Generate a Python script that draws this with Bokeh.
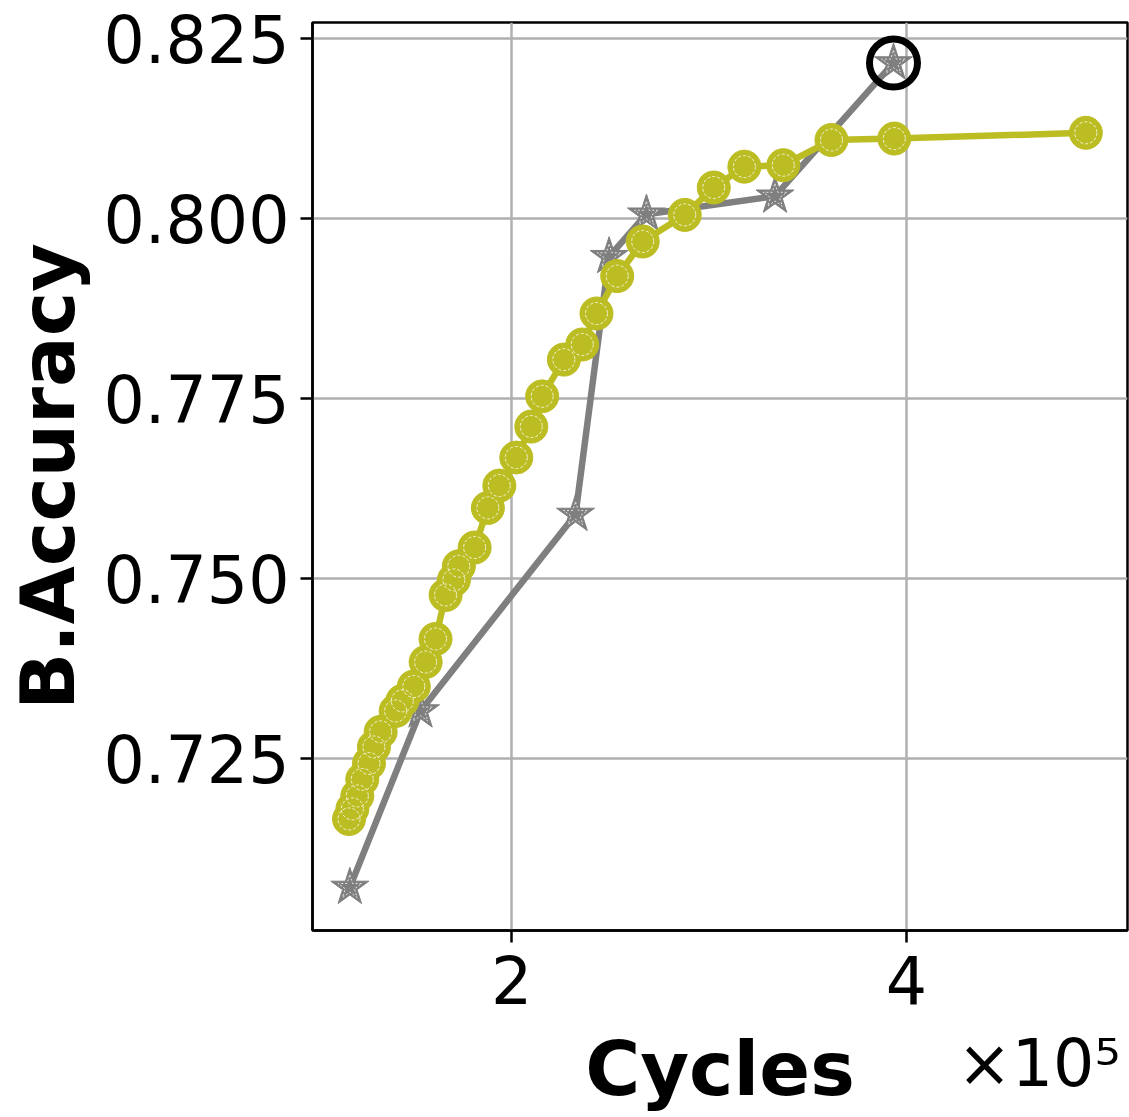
from bokeh.plotting import figure
from bokeh.models import Range1d, FixedTicker, PrintfTickFormatter, LinearAxis
from bokeh.embed import file_html
from bokeh.resources import INLINE

# Cycles in units of 1e5
gray_x = [1.181, 1.539, 2.324, 2.494, 2.683, 3.334, 3.934]
gray_y = [0.7071, 0.7316, 0.7589, 0.7947, 0.8006, 0.8031, 0.8216]

olive_x = [1.177, 1.194, 1.219, 1.244, 1.278, 1.303, 1.337, 1.413, 1.447, 1.505,
           1.565, 1.615, 1.666, 1.708, 1.733, 1.813, 1.880, 1.938, 2.024, 2.100,
           2.155, 2.265, 2.358, 2.430, 2.535, 2.664, 2.877, 3.024, 3.179, 3.376,
           3.620, 3.938, 4.908]
olive_y = [0.7166, 0.7180, 0.7198, 0.7221, 0.7243, 0.7266, 0.7287, 0.7316, 0.7330, 0.7350,
           0.7384, 0.7416, 0.7477, 0.7498, 0.7517, 0.7543, 0.7598, 0.7629, 0.7668, 0.7711,
           0.7753, 0.7804, 0.7825, 0.7868, 0.7920, 0.7968, 0.8005, 0.8043, 0.8072, 0.8074,
           0.8109, 0.8111, 0.8119]

x_ticks = [2, 4]
y_ticks = [0.725, 0.750, 0.775, 0.800, 0.825]
offset_text = "×10⁵"
offset_pos = 4.67

GRAY = "#7f7f7f"
OLIVE = "#bcbd22"
FONT = "DejaVu Sans"

p = figure(width=1129, height=1117, output_backend="svg", toolbar_location=None,
           x_range=Range1d(0.992, 5.119), y_range=Range1d(0.70111, 0.82722),
           min_border_left=312, min_border_right=2, min_border_top=22, min_border_bottom=187)

p.background_fill_color = "white"
p.border_fill_color = "white"
p.outline_line_color = "black"
p.outline_line_width = 2.5

p.xaxis.ticker = FixedTicker(ticks=x_ticks)
p.yaxis.ticker = FixedTicker(ticks=y_ticks)
p.yaxis.formatter = PrintfTickFormatter(format="%.3f")
p.xaxis.formatter = PrintfTickFormatter(format="%d")

# second bottom axis: carries the x10^5 offset text and the "Cycles" label on one row
ax2 = LinearAxis(ticker=FixedTicker(ticks=[offset_pos]),
                 major_label_overrides={offset_pos: offset_text})
p.add_layout(ax2, "below")

for ax in (p.xaxis[0], p.yaxis[0], ax2):
    ax.axis_line_color = "black"
    ax.axis_line_width = 2.5
    ax.major_tick_line_color = "black"
    ax.major_tick_line_width = 2.5
    ax.major_tick_out = 12
    ax.major_tick_in = 0
    ax.minor_tick_line_color = None
    ax.major_label_text_font = FONT
    ax.major_label_text_font_size = "65px"
    ax.major_label_text_color = "black"
    ax.axis_label_text_font = FONT
    ax.axis_label_text_font_size = "75px"
    ax.axis_label_text_font_style = "bold"
    ax.axis_label_text_color = "black"

ax2.axis_line_color = None
ax2.major_tick_line_color = None
ax2.major_tick_out = 0
ax2.major_label_standoff = 19
ax2.axis_label = "Cycles"
ax2.axis_label_standoff = -79

p.yaxis.axis_label = "B.Accuracy"
p.xaxis[0].major_label_standoff = 12
p.yaxis.major_label_standoff = 11
p.yaxis.axis_label_standoff = 8

p.grid.grid_line_color = "#b0b0b0"
p.grid.grid_line_width = 2.5

# gray series
p.line(gray_x, gray_y, line_color=GRAY, line_width=6.5)
p.scatter(gray_x, gray_y, marker="star", size=40, fill_color=GRAY, line_color=GRAY, line_width=1)
p.scatter(gray_x, gray_y, marker="star", size=25, fill_color=None, line_color="white",
          line_width=0.8, line_dash="2 2")

# olive series
p.line(olive_x, olive_y, line_color=OLIVE, line_width=6.5)
p.scatter(olive_x, olive_y, marker="circle", size=33, fill_color=OLIVE, line_color=OLIVE, line_width=1)
p.scatter(olive_x, olive_y, marker="circle", size=22, fill_color=None, line_color="white",
          line_width=0.8, line_dash="3 2")

# highlight best point
best = max(range(len(gray_y)), key=lambda i: gray_y[i])
p.scatter([gray_x[best]], [gray_y[best]], marker="circle", size=48, fill_color=None,
          line_color="black", line_width=7)

open("out.html", "w").write(file_html(p, INLINE))
